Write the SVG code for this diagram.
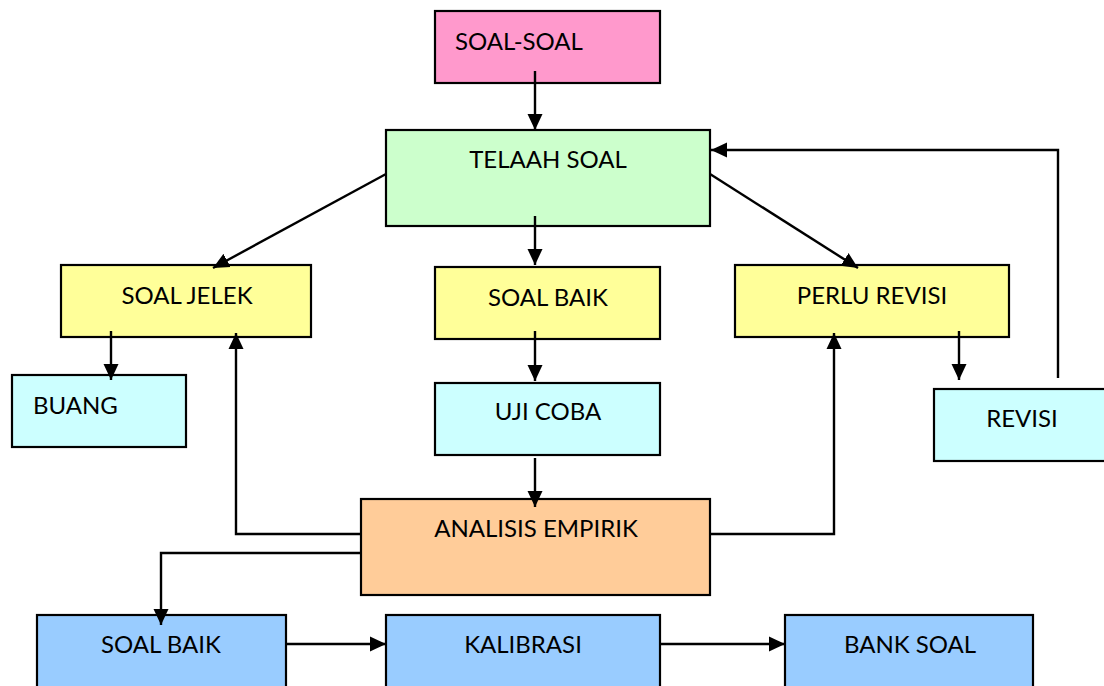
<svg xmlns="http://www.w3.org/2000/svg" width="1104" height="686" viewBox="0 0 1104 686">
  <style>
    .box { stroke: #000; stroke-width: 2.2; }
    .lbl { font-family: Lato, "Open Sans", "Liberation Sans", sans-serif; font-size: 24px; fill: #000; }
    .mid { text-anchor: middle; }
    .wire { fill: none; stroke: #000; stroke-width: 2.4; }
    .pink { fill: #FF99CC; }
    .green { fill: #CCFFCC; }
    .yellow { fill: #FFFF99; }
    .cyan { fill: #CCFFFF; }
    .peach { fill: #FFCC99; }
    .blue { fill: #99CCFF; }
  </style>
  <defs>
    <marker id="head" markerUnits="userSpaceOnUse" markerWidth="18" markerHeight="18" refX="16" refY="8" orient="auto">
      <path d="M0,0.5 L16,8 L0,15.5 z" fill="#000"/>
    </marker>
  </defs>

  <rect width="1104" height="686" fill="#fff"/>

  <g id="soal-soal">
    <rect class="box pink" x="435" y="11" width="225" height="72"/>
    <text class="lbl" x="455" y="50">SOAL-SOAL</text>
  </g>
  <g id="telaah-soal">
    <rect class="box green" x="386" y="130" width="324" height="96"/>
    <text class="lbl mid" x="548" y="168">TELAAH SOAL</text>
  </g>
  <g id="soal-jelek">
    <rect class="box yellow" x="61" y="265" width="250" height="72"/>
    <text class="lbl mid" x="187" y="304">SOAL JELEK</text>
  </g>
  <g id="soal-baik-1">
    <rect class="box yellow" x="435" y="267" width="225" height="72"/>
    <text class="lbl mid" x="548" y="306">SOAL BAIK</text>
  </g>
  <g id="perlu-revisi">
    <rect class="box yellow" x="735" y="265" width="274" height="72"/>
    <text class="lbl mid" x="872" y="304">PERLU REVISI</text>
  </g>
  <g id="buang">
    <rect class="box cyan" x="12" y="375" width="174" height="72"/>
    <text class="lbl" x="33" y="414">BUANG</text>
  </g>
  <g id="uji-coba">
    <rect class="box cyan" x="435" y="383" width="225" height="72"/>
    <text class="lbl mid" x="548" y="420">UJI COBA</text>
  </g>
  <g id="revisi">
    <rect class="box cyan" x="934" y="389" width="180" height="72"/>
    <text class="lbl mid" x="1022" y="427">REVISI</text>
  </g>
  <g id="analisis-empirik">
    <rect class="box peach" x="361" y="499" width="349" height="96"/>
    <text class="lbl mid" x="536" y="537">ANALISIS EMPIRIK</text>
  </g>
  <g id="soal-baik-2">
    <rect class="box blue" x="37" y="615" width="249" height="80"/>
    <text class="lbl mid" x="161" y="653">SOAL BAIK</text>
  </g>
  <g id="kalibrasi">
    <rect class="box blue" x="386" y="615" width="274" height="80"/>
    <text class="lbl mid" x="523" y="653">KALIBRASI</text>
  </g>
  <g id="bank-soal">
    <rect class="box blue" x="785" y="615" width="248" height="80"/>
    <text class="lbl mid" x="910" y="653">BANK SOAL</text>
  </g>

  <g id="connectors">
    <line class="wire" x1="535" y1="71" x2="535" y2="130" marker-end="url(#head)"/>
    <line class="wire" x1="386" y1="174" x2="213" y2="268" marker-end="url(#head)"/>
    <line class="wire" x1="535" y1="216" x2="535" y2="265" marker-end="url(#head)"/>
    <line class="wire" x1="710" y1="174" x2="858" y2="268" marker-end="url(#head)"/>
    <polyline class="wire" points="1058,378 1058,150 711,150" marker-end="url(#head)"/>
    <line class="wire" x1="111" y1="331" x2="111" y2="380" marker-end="url(#head)"/>
    <line class="wire" x1="959" y1="331" x2="959" y2="380" marker-end="url(#head)"/>
    <line class="wire" x1="535" y1="331" x2="535" y2="381" marker-end="url(#head)"/>
    <line class="wire" x1="535" y1="458" x2="535" y2="507" marker-end="url(#head)"/>
    <polyline class="wire" points="361,534 236,534 236,333" marker-end="url(#head)"/>
    <polyline class="wire" points="710,534 834,534 834,333" marker-end="url(#head)"/>
    <polyline class="wire" points="361,553 161,553 161,625" marker-end="url(#head)"/>
    <line class="wire" x1="286" y1="644" x2="386" y2="644" marker-end="url(#head)"/>
    <line class="wire" x1="660" y1="644" x2="785" y2="644" marker-end="url(#head)"/>
  </g>
</svg>
